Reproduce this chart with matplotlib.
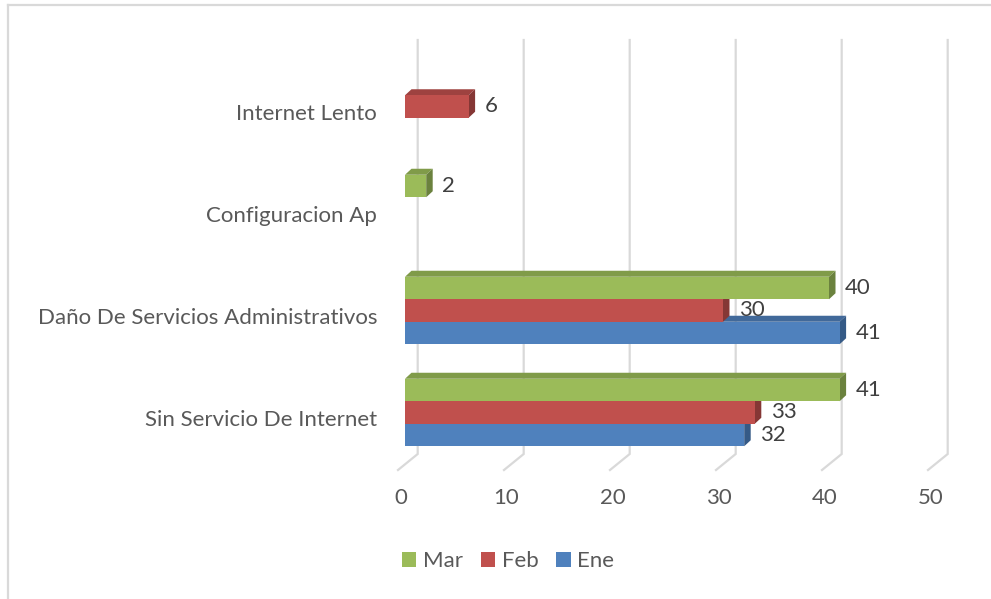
import matplotlib.pyplot as plt
from matplotlib.patches import Polygon, Patch
from matplotlib.lines import Line2D
from matplotlib.transforms import ScaledTranslation

plt.rcParams['font.family'] = ['Lato', 'DejaVu Sans']

# data (categories listed bottom to top)
categories = ['Sin Servicio De Internet', 'Daño De Servicios Administrativos',
              'Configuracion Ap', 'Internet Lento']
ene = [32, 41, 0, 0]
feb = [33, 30, 0, 6]
mar = [41, 40, 2, 0]
series_names = ['Ene', 'Feb', 'Mar']
x_ticks = [0, 10, 20, 30, 40, 50]

front_colors = ['#4F81BD', '#C0504D', '#9BBB59']
top_colors = ['#41699A', '#9E4240', '#809B49']
side_colors = ['#355A86', '#853735', '#6B823E']
text_color = '#595959'
grid_color = '#D9D9D9'
fs = 16

W, H = 991, 599
fig = plt.figure(figsize=(W / 100, H / 100), dpi=100)

# axes box in pixels: front plane of bars from x=405 (0) to 935 (50)
left_px, right_px, top_px, bottom_px = 405, 935, 40, 470
ax = fig.add_axes([left_px / W, 1 - bottom_px / H,
                   (right_px - left_px) / W, (bottom_px - top_px) / H])
xmax = 50
ppx = (right_px - left_px) / xmax   # pixels per value unit
ppy = 102                           # pixels per category
y0_px = 412.5                       # centre of first category
ax.set_xlim(0, xmax)
ax.set_ylim(-(bottom_px - y0_px) / ppy, (y0_px - top_px) / ppy)
ylo, yhi = ax.get_ylim()

# depth of the fake 3d boxes
dx, dy = 6.5 / ppx, 6 / ppy
bar_h = 22.5 / ppy
offsets = [-bar_h, 0, bar_h]

# back wall gridlines with a bend onto the floor
y_bend = (y0_px - 454) / ppy
for v in x_ticks:
    xb = v + 12.7 / ppx
    xf = v - 7 / ppx
    ax.plot([xb, xb, xf], [yhi, y_bend, ylo], color=grid_color, lw=1.6,
            zorder=0, clip_on=False, solid_joinstyle='miter')

for k, vals in enumerate([ene, feb, mar]):
    ys = [i + offsets[k] for i in range(len(categories))]
    z = 2 + k
    ax.barh(ys, vals, height=bar_h, color=front_colors[k], zorder=z + 0.5)
    for v, yc in zip(vals, ys):
        if v == 0:
            continue
        yb, yt = yc - bar_h / 2, yc + bar_h / 2
        top = Polygon([(0, yt), (v, yt), (v + dx, yt + dy), (dx, yt + dy)],
                      closed=True, facecolor=top_colors[k], edgecolor='none', zorder=z)
        side = Polygon([(v, yb), (v, yt), (v + dx, yt + dy), (v + dx, yb + dy)],
                       closed=True, facecolor=side_colors[k], edgecolor='none', zorder=z)
        ax.add_patch(top)
        ax.add_patch(side)
        ax.text(v + 16 / ppx, yc, str(v), ha='left', va='center',
                fontsize=fs, color='#404040', zorder=10)

for s in ax.spines.values():
    s.set_visible(False)

ax.set_xticks(x_ticks)
ax.set_xticklabels([str(t) for t in x_ticks], fontsize=fs, color=text_color)
ax.tick_params(axis='x', length=0, pad=13)
for lab in ax.get_xticklabels():
    lab.set_transform(lab.get_transform() + ScaledTranslation(-4.6 / 100, 0, fig.dpi_scale_trans))

ax.set_yticks(range(len(categories)))
ax.set_yticklabels(categories, fontsize=fs, color=text_color)
ax.tick_params(axis='y', length=0, pad=20)
for lab in ax.get_yticklabels():
    lab.set_transform(lab.get_transform() + ScaledTranslation(0, -5 / 100, fig.dpi_scale_trans))

handles = [Patch(facecolor=front_colors[k], label=series_names[k]) for k in [2, 1, 0]]
fig.legend(handles=handles, loc='center', bbox_to_anchor=(508 / W, 1 - 561 / H),
           ncol=3, frameon=False, fontsize=fs, labelcolor=text_color,
           handlelength=0.65, handleheight=0.65, handletextpad=0.3, columnspacing=0.8)

# chart border (top and left edges visible)
fig.add_artist(Line2D([7.5 / W, 7.5 / W], [0, 1 - 4.5 / H], color=grid_color, lw=1.6))
fig.add_artist(Line2D([7.5 / W, 1], [1 - 4.5 / H, 1 - 4.5 / H], color=grid_color, lw=1.6))

fig.savefig('out.png', dpi=100)
